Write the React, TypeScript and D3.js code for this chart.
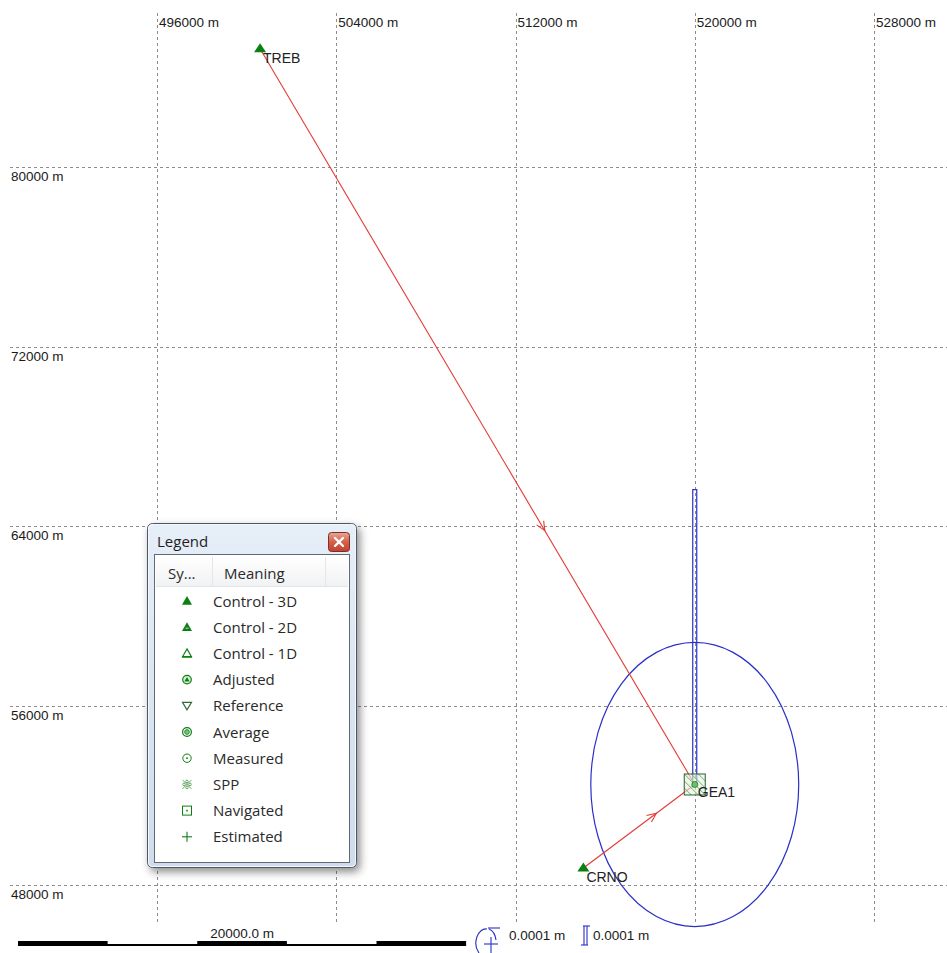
import * as d3 from "d3";
import React from "react";

// grid ticks (metres)
const eastTicks = [496000, 504000, 512000, 520000, 528000];
const northTicks = [80000, 72000, 64000, 56000, 48000];

// stations
const stationNames = ["TREB", "GEA1", "CRNO"];
const stationEast = [500600, 520000, 515030];
const stationNorth = [85270, 52480, 48760];

// observed vectors, from -> to
const vectorFrom = ["TREB", "CRNO"];
const vectorTo = ["GEA1", "GEA1"];

// error ellipse + height bar at GEA1 (display units, metres on the map)
const ellipseSemiEast = 4640;
const ellipseSemiNorth = 6340;
const heightBarLength = 13160;

// scale bar
const scaleBarLength = 20000;
const scaleBarSegments = 5;

const legendItems = [
  "Control - 3D",
  "Control - 2D",
  "Control - 1D",
  "Adjusted",
  "Reference",
  "Average",
  "Measured",
  "SPP",
  "Navigated",
  "Estimated",
];

const GREEN = "#0c7f12";
const RED = "#e23b36";
const BLUE = "#2a2fc8";
const GRID = "#8c8c8c";
const LABEL_FONT = "'Liberation Sans', Arial, sans-serif";
const UI_FONT = "'Open Sans', 'Noto Sans', sans-serif";

const x = d3.scaleLinear().domain([496000, 528000]).range([157, 874]);
const y = d3.scaleLinear().domain([80000, 48000]).range([167, 885]);

const stationPos = (name: string) => {
  const i = stationNames.indexOf(name);
  return { px: x(stationEast[i]), py: y(stationNorth[i]) };
};

const LegendSymbol = ({ kind, cx, cy }: { kind: number; cx: number; cy: number }) => {
  const tri = (s: number) => `M${cx},${cy - s}L${cx + s},${cy + s * 0.75}L${cx - s},${cy + s * 0.75}Z`;
  switch (kind) {
    case 0:
      return <path d={tri(5)} fill={GREEN} />;
    case 1:
      return (
        <g>
          <path d={tri(5)} fill={GREEN} />
          <line x1={cx - 1.5} x2={cx + 1.5} y1={cy + 1} y2={cy + 1} stroke="#bfe3bf" />
        </g>
      );
    case 2:
      return (
        <g>
          <path d={tri(4.5)} fill="none" stroke={GREEN} strokeWidth={1.2} />
          <line x1={cx - 5} x2={cx + 5} y1={cy + 3.4} y2={cy + 3.4} stroke={GREEN} strokeWidth={1.5} />
        </g>
      );
    case 3:
      return (
        <g>
          <circle cx={cx} cy={cy} r={4.3} fill="#d9efd9" stroke={GREEN} strokeWidth={1.2} />
          <path d={tri(2.6)} fill={GREEN} />
        </g>
      );
    case 4:
      return (
        <path
          d={`M${cx - 4.5},${cy - 3.5}L${cx + 4.5},${cy - 3.5}L${cx},${cy + 4}Z`}
          fill="none"
          stroke="#2f6b3a"
          strokeWidth={1.2}
        />
      );
    case 5:
      return (
        <g>
          <circle cx={cx} cy={cy} r={4.4} fill="none" stroke={GREEN} strokeWidth={1.2} />
          <circle cx={cx} cy={cy} r={2.4} fill="#7fbf7f" stroke={GREEN} strokeWidth={0.8} />
        </g>
      );
    case 6:
      return (
        <g>
          <circle cx={cx} cy={cy} r={4.2} fill="none" stroke={GREEN} strokeWidth={1} />
          <circle cx={cx} cy={cy} r={0.9} fill={GREEN} />
        </g>
      );
    case 7:
      return (
        <g stroke="#5aa05a" strokeWidth={0.9} fill="none">
          <line x1={cx - 4.5} y1={cy - 4.5} x2={cx + 4.5} y2={cy + 4.5} />
          <line x1={cx + 4.5} y1={cy - 4.5} x2={cx - 4.5} y2={cy + 4.5} />
          <circle cx={cx} cy={cy - 3} r={1.3} />
          <circle cx={cx} cy={cy + 3} r={1.3} />
          <circle cx={cx - 3} cy={cy} r={1.3} />
          <circle cx={cx + 3} cy={cy} r={1.3} />
        </g>
      );
    case 8:
      return (
        <g>
          <rect x={cx - 4.5} y={cy - 4.5} width={9} height={9} fill="none" stroke={GREEN} strokeWidth={1} />
          <rect x={cx - 0.8} y={cy - 0.8} width={1.6} height={1.6} fill={GREEN} />
        </g>
      );
    default:
      return (
        <g stroke={GREEN} strokeWidth={1.1}>
          <line x1={cx - 5} x2={cx + 5} y1={cy} y2={cy} />
          <line x1={cx} x2={cx} y1={cy - 5} y2={cy + 5} />
        </g>
      );
  }
};

const Arrow = ({ from, to }: { from: string; to: string }) => {
  const a = stationPos(from);
  const b = stationPos(to);
  const t = 0.655;
  const mx = a.px + (b.px - a.px) * t;
  const my = a.py + (b.py - a.py) * t;
  const ang = Math.atan2(b.py - a.py, b.px - a.px);
  const len = 10;
  const spread = 0.42;
  const p1 = [mx - len * Math.cos(ang - spread), my - len * Math.sin(ang - spread)];
  const p2 = [mx - len * Math.cos(ang + spread), my - len * Math.sin(ang + spread)];
  return (
    <g stroke={RED} strokeWidth={1.1} fill="none">
      <line x1={a.px} y1={a.py} x2={b.px} y2={b.py} />
      <path d={`M${p1[0]},${p1[1]}L${mx},${my}L${p2[0]},${p2[1]}`} />
    </g>
  );
};

const App = () => {
  const gea = stationPos("GEA1");
  const pxPerM = x(1) - x(0);
  const rowY = d3.scaleLinear().domain([0, 1]).range([601, 627.2]);
  const barX0 = 18;
  const segW = (scaleBarLength * pxPerM) / scaleBarSegments;

  return (
    <div style={{ position: "absolute", left: 0, top: 0 }}>
      <svg width={947} height={953} style={{ display: "block", background: "#fff" }}>
        <defs>
          <filter id="shadow" x="-20%" y="-20%" width="140%" height="140%">
            <feDropShadow dx={3} dy={4} stdDeviation={4} floodColor="#000" floodOpacity={0.45} />
          </filter>
          <linearGradient id="frameGrad" x1="0" y1="0" x2="0" y2="1">
            <stop offset="0" stopColor="#e6eef8" />
            <stop offset="1" stopColor="#cfdcec" />
          </linearGradient>
          <linearGradient id="closeGrad" x1="0" y1="0" x2="0" y2="1">
            <stop offset="0" stopColor="#e9a796" />
            <stop offset="0.5" stopColor="#d4604a" />
            <stop offset="1" stopColor="#c2402c" />
          </linearGradient>
          <linearGradient id="headGrad" x1="0" y1="0" x2="0" y2="1">
            <stop offset="0" stopColor="#ffffff" />
            <stop offset="1" stopColor="#f1f2f4" />
          </linearGradient>
          <clipPath id="geaBox">
            <rect x={gea.px - 10.5} y={gea.py - 10.5} width={21} height={21} />
          </clipPath>
        </defs>

        {/* grid */}
        <g stroke={GRID} strokeWidth={1} strokeDasharray="3,3">
          {eastTicks.map((t) => (
            <line key={t} x1={Math.round(x(t)) + 0.5} x2={Math.round(x(t)) + 0.5} y1={13} y2={923} />
          ))}
          {northTicks.map((t) => (
            <line key={t} x1={10} x2={947} y1={Math.round(y(t)) + 0.5} y2={Math.round(y(t)) + 0.5} />
          ))}
        </g>
        <g fontFamily={LABEL_FONT} fontSize={13.5} fill="#1a1a1a">
          {eastTicks.map((t) => (
            <text key={t} x={x(t) + 2} y={27}>
              {`${t} m`}
            </text>
          ))}
          {northTicks.map((t) => (
            <text key={t} x={11} y={y(t) + 14}>
              {`${t} m`}
            </text>
          ))}
        </g>

        {/* error ellipse and height bar */}
        <ellipse
          cx={gea.px}
          cy={gea.py}
          rx={ellipseSemiEast * pxPerM}
          ry={ellipseSemiNorth * pxPerM}
          fill="none"
          stroke={BLUE}
          strokeWidth={1.2}
        />
        <rect
          x={gea.px - 2}
          y={gea.py - heightBarLength * pxPerM}
          width={4}
          height={heightBarLength * pxPerM}
          fill="none"
          stroke={BLUE}
          strokeWidth={1.2}
        />

        {/* vectors */}
        {vectorFrom.map((f, i) => (
          <Arrow key={f} from={f} to={vectorTo[i]} />
        ))}

        {/* stations */}
        {stationNames.map((n) => {
          const p = stationPos(n);
          if (n === "GEA1") {
            return (
              <g key={n}>
                <rect x={p.px - 10.5} y={p.py - 10.5} width={21} height={21} fill="#e4f2e4" fillOpacity={0.6} />
                <g clipPath="url(#geaBox)" stroke="#6fae6f" strokeWidth={1}>
                  {d3.range(-3, 4).map((k) => (
                    <line key={k} x1={p.px - 12 + k * 7} y1={p.py - 12} x2={p.px + 12 + k * 7} y2={p.py + 12} />
                  ))}
                </g>
                <rect x={p.px - 10.5} y={p.py - 10.5} width={21} height={21} fill="none" stroke="#2f5f2f" strokeWidth={1} />
                <circle cx={p.px} cy={p.py} r={3} fill="#6fbf6f" stroke={GREEN} strokeWidth={0.8} />
                <text x={p.px + 3} y={p.py + 13} fontFamily={LABEL_FONT} fontSize={14} fill="#222">
                  {n}
                </text>
              </g>
            );
          }
          return (
            <g key={n}>
              <path d={`M${p.px},${p.py - 5.5}L${p.px + 6},${p.py + 3.5}L${p.px - 6},${p.py + 3.5}Z`} fill={GREEN} />
              <text x={p.px + 3} y={p.py + 14} fontFamily={LABEL_FONT} fontSize={14} fill="#222">
                {n}
              </text>
            </g>
          );
        })}

        {/* scale bar */}
        <g>
          <rect x={barX0} y={941} width={segW * scaleBarSegments} height={5} fill="#000" />
          {d3.range(scaleBarSegments)
            .filter((k) => k % 2 === 1)
            .map((k) => (
              <rect key={k} x={barX0 + k * segW} y={941} width={segW} height={3} fill="#fff" />
            ))}
          <text
            x={barX0 + (segW * scaleBarSegments) / 2}
            y={938}
            textAnchor="middle"
            fontFamily={LABEL_FONT}
            fontSize={13.5}
            fill="#1a1a1a"
          >
            {`${scaleBarLength.toFixed(1)} m`}
          </text>
        </g>

        {/* ellipse / height scale icons */}
        <g stroke={BLUE} strokeWidth={1.1} fill="none">
          <path d="M487,929 A10,14 0 0 0 479,953" />
          <path d="M489,929 A10,14 0 0 1 496,940" />
          <line x1={488} x2={500} y1={928} y2={928} />
          <line x1={484} x2={498} y1={944} y2={944} />
          <line x1={491} x2={491} y1={937} y2={953} />
          <line x1={584} x2={584} y1={926} y2={945} />
          <line x1={587} x2={587} y1={926} y2={945} />
          <line x1={583} x2={590} y1={926} y2={926} />
          <line x1={581} x2={588} y1={945} y2={945} />
        </g>
        <g fontFamily={LABEL_FONT} fontSize={13.5} fill="#1a1a1a">
          <text x={509} y={940}>0.0001 m</text>
          <text x={593} y={940}>0.0001 m</text>
        </g>

        {/* legend window */}
        <g>
          <rect x={147.5} y={523.5} width={209} height={344} rx={5} fill="url(#frameGrad)" stroke="#4e5966" filter="url(#shadow)" />
          <rect x={148.5} y={524.5} width={207} height={342} rx={4} fill="none" stroke="#f4f8fc" />
          <text x={157} y={547} fontFamily={UI_FONT} fontSize={15} fill="#1e1e1e">
            Legend
          </text>
          <rect x={328.5} y={532.5} width={21} height={19} rx={3} fill="url(#closeGrad)" stroke="#7a3028" />
          <g stroke="#fff" strokeWidth={2.4} strokeLinecap="round">
            <line x1={335} y1={538} x2={343} y2={546} />
            <line x1={343} y1={538} x2={335} y2={546} />
          </g>
          <rect x={154.5} y={554.5} width={195} height={308} fill="#fff" stroke="#5f6a76" />
          <rect x={156} y={556} width={192} height={30} fill="url(#headGrad)" />
          <line x1={156} x2={348} y1={586.5} y2={586.5} stroke="#e2e4e8" />
          <line x1={212.5} x2={212.5} y1={557} y2={586} stroke="#e4e6ea" />
          <line x1={325.5} x2={325.5} y1={557} y2={586} stroke="#e4e6ea" />
          <g fontFamily={UI_FONT} fontSize={15} fill="#2a2a2a">
            <text x={168} y={579}>Sy...</text>
            <text x={224} y={579}>Meaning</text>
          </g>
          {legendItems.map((item, i) => (
            <g key={item}>
              <LegendSymbol kind={i} cx={187} cy={rowY(i)} />
              <text x={213} y={rowY(i) + 5.5} fontFamily={UI_FONT} fontSize={15} fill="#2a2a2a">
                {item}
              </text>
            </g>
          ))}
        </g>
      </svg>
    </div>
  );
};

export default App;
